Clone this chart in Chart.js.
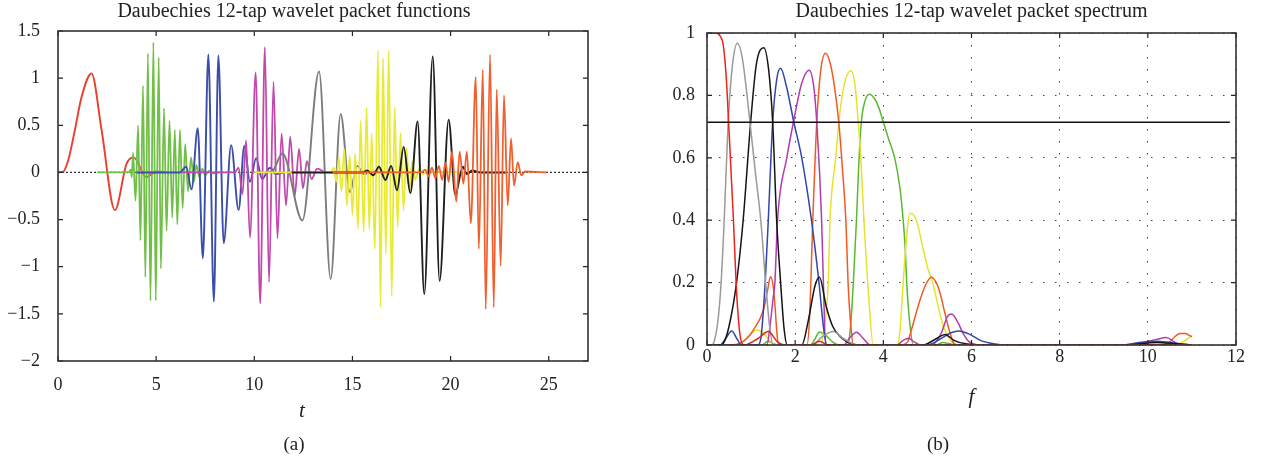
<!DOCTYPE html>
<html>
<head>
<meta charset="utf-8">
<script src="https://cdn.jsdelivr.net/npm/chart.js@4"></script>
<style>
  body { margin: 0; background: #fff; }
  #wrap { position: relative; width: 1261px; height: 463px; }
  .panel { position: absolute; top: 0; height: 463px; }
  #left { left: 0; width: 610px; }
  #right { left: 640px; width: 621px; }
</style>
</head>
<body>
<div id="wrap">
  <div class="panel" id="left"><canvas id="funcChart"></canvas></div>
  <div class="panel" id="right"><canvas id="specChart"></canvas></div>
</div>
<script>
// (a) wavelet packet functions, [t, value] (extrema)
const funcZero = [[0, 0], [27, 0]];
const funcRed = [[0, 0], [0.25, 0.005], [0.52, 0.13], [0.86, 0.45], [1.2, 0.8], [1.71, 1.05], [2.22, 0.45], [2.9, -0.40], [3.49, 0.09], [3.85, 0.16], [4.5, -0.05], [5.0, 0.01], [5.5, 0]];
const funcGreen = [[2.0, 0], [3.6, 0], [3.7, 0.03], [3.76, -0.05], [3.82, 0.21], [3.95, -0.3], [4.08, 0.5], [4.2, -0.72], [4.33, 0.92], [4.45, -1.11], [4.58, 1.26], [4.71, -1.36], [4.86, 1.38], [4.98, -1.36], [5.13, 1.22], [5.24, -1.02], [5.4, 0.68], [5.53, -0.62], [5.68, 0.55], [5.82, -0.48], [5.95, 0.45], [6.08, -0.55], [6.21, 0.45], [6.35, -0.38], [6.48, 0.3], [6.62, -0.2], [6.78, 0.16], [6.92, -0.1], [7.05, 0.08], [7.2, -0.05], [7.35, 0.04], [7.5, -0.03], [7.7, 0.02], [7.9, -0.01], [8.2, 0]];
const funcBlue = [[4.0, 0], [6.2, 0], [6.53, 0.06], [6.8, -0.18], [7.12, 0.47], [7.38, -0.91], [7.66, 1.25], [7.94, -1.37], [8.17, 1.24], [8.44, -0.75], [8.82, 0.29], [9.2, -0.4], [9.49, 0.28], [9.78, -0.1], [10.09, 0.15], [10.4, -0.07], [10.8, 0.05], [11.1, -0.02], [11.5, 0]];
const funcMagenta = [[6.3, 0], [9.0, 0], [9.2, 0.05], [9.4, -0.23], [9.58, 0.34], [9.78, -0.69], [10.07, 1.06], [10.3, -1.39], [10.54, 1.33], [10.75, -1.16], [10.98, 0.96], [11.18, -0.7], [11.39, 0.41], [11.62, -0.35], [11.83, 0.38], [12.06, -0.25], [12.28, 0.25], [12.48, -0.17], [12.68, 0.12], [12.92, -0.07], [13.2, 0.04], [13.6, 0]];
const funcGray = [[10.5, 0], [10.9, 0.01], [11.44, 0.2], [12.45, -0.51], [13.3, 1.07], [13.89, -1.13], [14.4, 0.62], [14.87, -0.21], [15.24, 0.07], [15.6, -0.02], [16.0, 0.01], [16.8, 0]];
const funcYellow = [[10.0, 0], [13.9, 0], [14.05, 0.05], [14.18, -0.1], [14.3, 0.16], [14.44, -0.2], [14.58, 0.25], [14.72, -0.35], [14.86, 0.18], [15.0, -0.45], [15.14, 0.2], [15.28, -0.6], [15.42, 0.55], [15.57, -0.63], [15.72, 0.69], [15.86, -0.6], [15.98, 0.41], [16.14, -0.81], [16.3, 1.29], [16.43, -1.43], [16.56, 1.21], [16.7, -0.86], [16.85, 1.29], [17.0, -1.31], [17.15, 0.69], [17.3, -0.58], [17.45, 0.42], [17.6, -0.4], [17.75, 0.26], [17.9, -0.2], [18.05, 0.12], [18.2, -0.08], [18.4, 0.04], [18.6, -0.02], [18.8, 0.01], [20.7, 0]];
const funcBlack = [[11.9, 0], [15.5, 0], [15.75, 0.02], [16.06, -0.03], [16.35, 0.06], [16.68, -0.08], [16.97, 0.07], [17.27, -0.19], [17.61, 0.27], [17.95, -0.22], [18.32, 0.54], [18.66, -1.29], [19.09, 1.23], [19.44, -1.15], [19.9, 0.56], [20.24, -0.24], [20.62, 0.06], [20.83, -0.02], [21.1, 0.02], [21.5, 0], [22.8, 0]];
const funcOrange = [[14.0, 0], [18.5, 0], [18.7, 0.03], [18.88, -0.04], [19.05, 0.05], [19.22, -0.06], [19.4, 0.07], [19.57, -0.08], [19.74, 0.1], [19.9, -0.1], [20.07, 0.22], [20.29, -0.31], [20.46, 0.22], [20.65, -0.12], [20.83, 0.22], [21.03, -0.54], [21.28, 1.01], [21.44, -0.81], [21.64, 1.09], [21.79, -1.45], [22.01, 1.25], [22.2, -1.43], [22.35, 0.88], [22.55, -0.99], [22.72, 0.82], [22.91, -0.35], [23.08, 0.36], [23.23, -0.14], [23.42, 0.11], [23.6, -0.03], [23.8, 0.01], [24.9, 0]];

// (b) wavelet packet spectrum, [f, value]
const specLevel = [[0, 0.714], [11.86, 0.714]];
const specRed = [[0, 1], [0.2, 1], [0.3, 0.99], [0.37, 0.96], [0.44, 0.85], [0.49, 0.714], [0.6, 0.4], [0.66, 0.2], [0.72, 0.07], [0.78, 0.01], [0.85, 0], [1.15, 0.02], [1.39, 0.043], [1.6, 0.01], [1.75, 0], [2.35, 0], [2.55, 0.012], [2.75, 0], [11, 0]];
const specGray = [[0, 0], [0.1, 0], [0.16, 0.01], [0.25, 0.08], [0.32, 0.2], [0.39, 0.4], [0.48, 0.714], [0.58, 0.9], [0.69, 0.967], [0.8, 0.92], [0.975, 0.714], [1.1, 0.55], [1.22, 0.4], [1.33, 0.2], [1.42, 0.06], [1.5, 0], [2.4, 0], [2.6, 0.025], [2.86, 0.043], [3.1, 0.02], [3.4, 0], [11, 0]];
const specBlack = [[0, 0], [0.3, 0], [0.37, 0.005], [0.5, 0.06], [0.67, 0.2], [0.82, 0.4], [0.99, 0.714], [1.12, 0.9], [1.29, 0.953], [1.4, 0.88], [1.49, 0.714], [1.58, 0.4], [1.67, 0.2], [1.75, 0.05], [1.82, 0], [2.15, 0], [2.3, 0.08], [2.45, 0.19], [2.55, 0.217], [2.71, 0.12], [2.85, 0.06], [3.0, 0.03], [3.3, 0.003], [3.5, 0], [4.9, 0], [5.2, 0.02], [5.4, 0.034], [5.6, 0.015], [5.9, 0.003], [6.5, 0], [9.5, 0], [10.2, 0.008], [10.6, 0.005], [11, 0]];
const specBlue = [[0, 0], [0.3, 0], [0.42, 0.02], [0.56, 0.045], [0.68, 0.02], [0.78, 0], [1.15, 0], [1.22, 0.02], [1.32, 0.2], [1.39, 0.4], [1.49, 0.714], [1.58, 0.85], [1.67, 0.887], [1.8, 0.83], [1.97, 0.714], [2.15, 0.6], [2.37, 0.4], [2.54, 0.2], [2.64, 0.06], [2.72, 0], [5.0, 0], [5.3, 0.02], [5.55, 0.04], [5.7, 0.045], [5.95, 0.035], [6.2, 0.015], [6.5, 0.004], [6.8, 0], [9.4, 0], [9.8, 0.008], [10.2, 0.012], [10.5, 0.008], [11, 0]];
const specMagenta = [[0, 0], [1.36, 0], [1.42, 0.05], [1.5, 0.15], [1.54, 0.2], [1.6, 0.4], [1.81, 0.6], [1.96, 0.714], [2.15, 0.84], [2.32, 0.881], [2.42, 0.83], [2.49, 0.714], [2.6, 0.4], [2.65, 0.15], [2.69, 0], [3.1, 0], [3.25, 0.025], [3.39, 0.041], [3.55, 0.02], [3.7, 0], [4.3, 0], [4.45, 0.015], [4.57, 0.022], [4.7, 0.01], [4.85, 0], [5.1, 0], [5.32, 0.04], [5.45, 0.09], [5.55, 0.099], [5.7, 0.07], [5.8, 0.04], [5.95, 0.01], [6.2, 0], [9.5, 0], [9.9, 0.008], [10.2, 0.018], [10.42, 0.024], [10.6, 0.01], [10.75, 0], [11, 0]];
const specOrange = [[0, 0], [0.45, 0], [0.7, 0.003], [0.9, 0.02], [1.05, 0.048], [1.28, 0.112], [1.38, 0.18], [1.44, 0.219], [1.5, 0.19], [1.54, 0.13], [1.58, 0.05], [1.62, 0], [2.27, 0], [2.33, 0.1], [2.4, 0.4], [2.49, 0.714], [2.58, 0.88], [2.69, 0.935], [2.8, 0.9], [2.9, 0.82], [2.99, 0.714], [3.08, 0.55], [3.15, 0.4], [3.2, 0.2], [3.27, 0.05], [3.32, 0], [4.4, 0], [4.55, 0.01], [4.64, 0.05], [4.8, 0.13], [4.95, 0.19], [5.09, 0.217], [5.2, 0.2], [5.28, 0.17], [5.4, 0.1], [5.51, 0.04], [5.6, 0.005], [5.7, 0], [10.3, 0], [10.5, 0.01], [10.6, 0.025], [10.73, 0.037], [10.85, 0.037], [10.95, 0.03], [11, 0.026]];
const specYellow = [[0, 0], [0.6, 0], [0.8, 0.01], [0.95, 0.03], [1.13, 0.048], [1.3, 0.035], [1.45, 0.01], [1.55, 0], [2.58, 0], [2.65, 0.05], [2.75, 0.2], [2.79, 0.4], [2.92, 0.6], [2.99, 0.714], [3.12, 0.84], [3.27, 0.879], [3.36, 0.83], [3.43, 0.714], [3.49, 0.6], [3.56, 0.4], [3.67, 0.15], [3.77, 0], [4.32, 0], [4.38, 0.05], [4.45, 0.2], [4.53, 0.35], [4.6, 0.422], [4.75, 0.4], [4.9, 0.31], [5.0, 0.25], [5.12, 0.2], [5.25, 0.12], [5.36, 0.06], [5.5, 0.02], [5.6, 0.005], [5.7, 0], [10.6, 0], [10.8, 0.01], [10.95, 0.025], [11, 0.03]];
const specGreen = [[0, 0], [1.25, 0], [1.38, 0.012], [1.5, 0.005], [1.6, 0], [2.35, 0], [2.45, 0.02], [2.55, 0.042], [2.7, 0.03], [2.85, 0.01], [3.0, 0], [3.18, 0], [3.25, 0.05], [3.32, 0.2], [3.39, 0.4], [3.45, 0.6], [3.5, 0.714], [3.58, 0.78], [3.68, 0.804], [3.8, 0.79], [3.9, 0.76], [4.0, 0.714], [4.12, 0.66], [4.26, 0.598], [4.38, 0.5], [4.45, 0.4], [4.5, 0.3], [4.53, 0.2], [4.6, 0.07], [4.68, 0], [5.2, 0], [5.35, 0.008], [5.5, 0.004], [5.7, 0], [11, 0]];

const funcTicksX = [0, 5, 10, 15, 20, 25];
const specTicksX = [0, 2, 4, 6, 8, 10, 12];

const SERIF = '"Liberation Serif", "DejaVu Serif", serif';
const INK = '#222';

function line(points, color, width, dash) {
  return {
    data: points.map(p => ({ x: p[0], y: p[1] })),
    borderColor: color,
    borderWidth: width,
    borderDash: dash || [],
    pointRadius: 0,
    cubicInterpolationMode: 'monotone',
    fill: false
  };
}

// later entries drawn on top
function stack(list) {
  return list.map((d, i) => Object.assign(d, { order: list.length - i }));
}

function fmt(v) {
  return String(Math.round(v * 100) / 100).replace('-', '\u2212');
}

// box frame with inward tick marks on all four sides
const boxTicks = {
  id: 'boxTicks',
  afterDatasetsDraw(chart) {
    const { ctx, chartArea: a, scales: { x, y } } = chart;
    const len = 5;
    ctx.save();
    ctx.strokeStyle = '#222';
    ctx.lineWidth = 1.2;
    ctx.beginPath();
    x.ticks.forEach(t => {
      const px = x.getPixelForValue(t.value);
      ctx.moveTo(px, a.bottom); ctx.lineTo(px, a.bottom - len);
      ctx.moveTo(px, a.top); ctx.lineTo(px, a.top + len);
    });
    y.ticks.forEach(t => {
      const py = y.getPixelForValue(t.value);
      ctx.moveTo(a.left, py); ctx.lineTo(a.left + len, py);
      ctx.moveTo(a.right, py); ctx.lineTo(a.right - len, py);
    });
    ctx.stroke();
    ctx.lineWidth = 1.6;
    ctx.strokeStyle = '#333';
    ctx.strokeRect(a.left, a.top, a.right - a.left, a.bottom - a.top);
    ctx.restore();
  }
};

new Chart(document.getElementById('funcChart'), {
  type: 'line',
  data: {
    datasets: stack([
      line(funcZero, '#333', 1.2, [2, 2]),
      line(funcRed, '#ec3d2c', 1.9),
      line(funcGreen, '#70bf48', 1.8),
      line(funcBlue, '#3b4ea9', 1.9),
      line(funcMagenta, '#c048ae', 1.8),
      line(funcGray, '#7c7c7c', 1.9),
      line(funcYellow, '#eaea34', 1.8),
      line(funcBlack, '#1f1f1f', 1.9),
      line(funcOrange, '#f0602e', 1.8)
    ])
  },
  options: {
    responsive: true,
    maintainAspectRatio: false,
    animation: false,
    layout: { padding: { top: 0, right: 22, bottom: 6.6, left: 0 } },
    plugins: {
      legend: { display: false },
      tooltip: { enabled: false },
      title: {
        display: true,
        text: 'Daubechies 12-tap wavelet packet functions',
        color: INK,
        font: { family: SERIF, size: 20, weight: 'normal' },
        padding: { top: 0, bottom: 7 }
      },
      subtitle: {
        display: true,
        position: 'bottom',
        text: '(a)',
        color: INK,
        font: { family: SERIF, size: 19, weight: 'normal' },
        padding: 0
      }
    },
    scales: {
      x: {
        type: 'linear',
        min: 0,
        max: 27,
        afterFit: s => { s.height = 72.6; },
        afterBuildTicks: s => { s.ticks = funcTicksX.map(v => ({ value: v })); },
        grid: { display: false },
        border: { display: false },
        ticks: { padding: 5, color: INK, maxRotation: 0, font: { family: SERIF, size: 18 } },
        title: {
          display: true,
          text: 't\u2003\u2003',
          color: INK,
          font: { family: SERIF, size: 21, style: 'italic' },
          padding: { top: 0, bottom: 10 }
        }
      },
      y: {
        min: -2,
        max: 1.5,
        afterFit: s => { s.width = 58; },
        grid: { display: false },
        border: { display: false },
        ticks: { stepSize: 0.5, padding: 10, color: INK, font: { family: SERIF, size: 18 }, callback: v => fmt(v) }
      }
    }
  },
  plugins: [boxTicks]
});

new Chart(document.getElementById('specChart'), {
  type: 'line',
  data: {
    datasets: stack([
      line(specGreen, '#5cb832', 1.5),
      line(specYellow, '#e4e42c', 1.5),
      line(specOrange, '#f05a24', 1.5),
      line(specMagenta, '#b23cae', 1.5),
      line(specBlue, '#3046ae', 1.5),
      line(specBlack, '#141414', 1.5),
      line(specGray, '#9a9a9a', 1.5),
      line(specRed, '#e8241c', 1.5),
      line(specLevel, '#111', 1.4)
    ])
  },
  options: {
    responsive: true,
    maintainAspectRatio: false,
    animation: false,
    layout: { padding: { top: 0, right: 25, bottom: 6.6, left: 0 } },
    plugins: {
      legend: { display: false },
      tooltip: { enabled: false },
      title: {
        display: true,
        fullSize: false,
        text: 'Daubechies 12-tap wavelet packet spectrum',
        color: INK,
        font: { family: SERIF, size: 20, weight: 'normal' },
        padding: { top: 0, bottom: 9 }
      },
      subtitle: {
        display: true,
        position: 'bottom',
        text: '(b)',
        color: INK,
        font: { family: SERIF, size: 19, weight: 'normal' },
        padding: 0
      }
    },
    scales: {
      x: {
        type: 'linear',
        min: 0,
        max: 12,
        afterFit: s => { s.height = 88.6; },
        afterBuildTicks: s => { s.ticks = specTicksX.map(v => ({ value: v })); },
        grid: { color: '#444', lineWidth: 1, drawTicks: false },
        border: { display: false, dash: [1.5, 10.5] },
        ticks: { padding: 1, color: INK, maxRotation: 0, font: { family: SERIF, size: 18 } },
        title: {
          display: true,
          text: 'f',
          color: INK,
          font: { family: SERIF, size: 21, style: 'italic' },
          padding: { top: 0, bottom: 24 }
        }
      },
      y: {
        min: 0,
        max: 1,
        afterFit: s => { s.width = 67; },
        grid: { color: '#444', lineWidth: 1, drawTicks: false },
        border: { display: false, dash: [1.5, 10.5] },
        ticks: { stepSize: 0.2, padding: 12, color: INK, font: { family: SERIF, size: 18 }, callback: v => fmt(v) }
      }
    }
  },
  plugins: [boxTicks]
});
</script>
</body>
</html>
